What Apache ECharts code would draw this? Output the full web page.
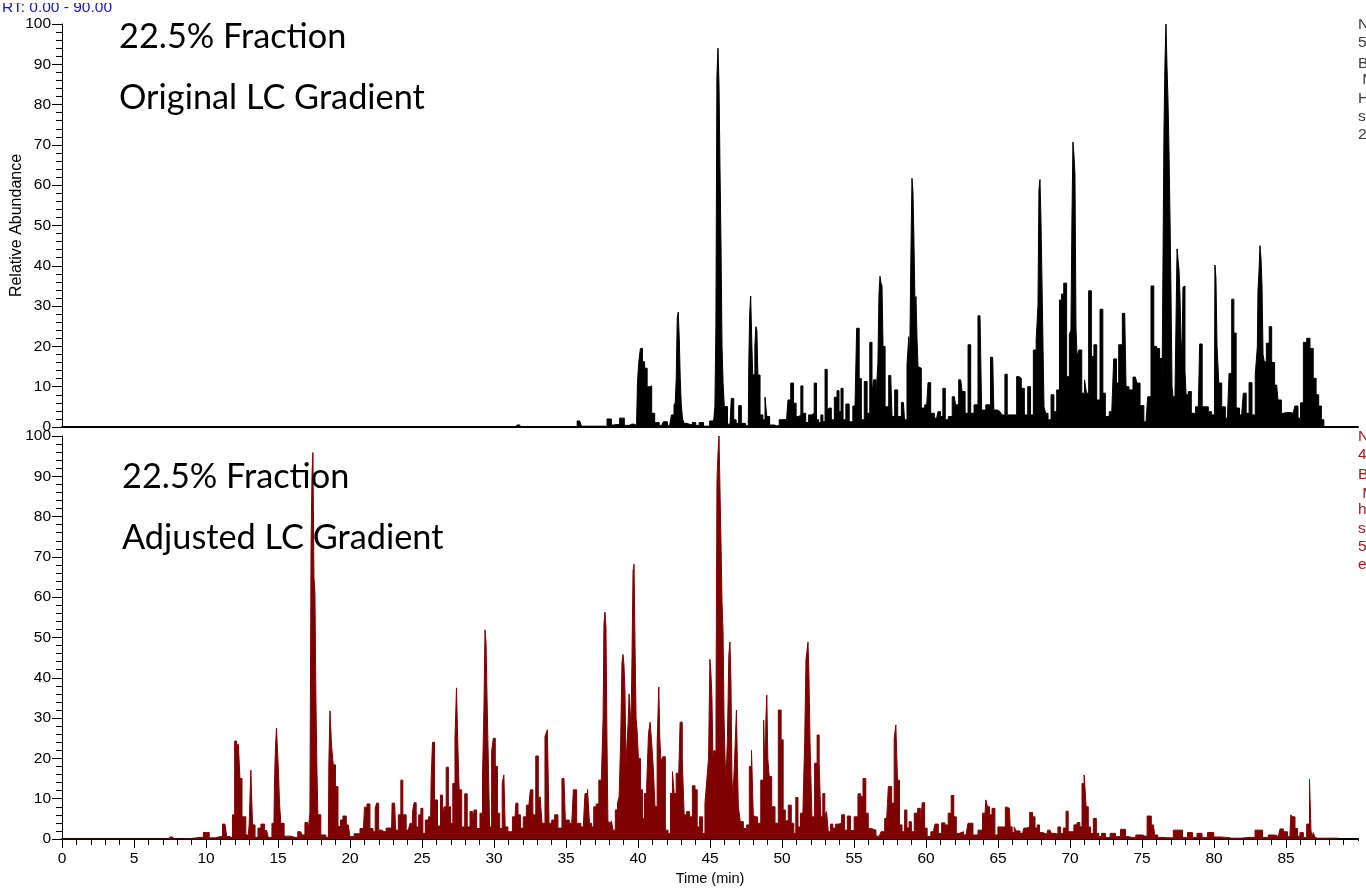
<!DOCTYPE html>
<html><head><meta charset="utf-8">
<style>html,body{margin:0;padding:0;background:#fff;overflow:hidden}#c{width:1366px;height:895px}</style>
<script src="https://cdn.jsdelivr.net/npm/echarts@6/dist/echarts.min.js"></script>
</head><body><div id="c"></div>
<script>
const topTimes=[0,31.5,31.7,31.9,35.6,35.95,36.2,37.7,38,38.3,38.55,38.9,39.2,39.56,39.9,40.02,40.09,40.25,40.37,40.55,40.72,40.88,41.02,41.3,41.64,41.88,42.2,42.5,42.68,42.8,42.92,43.03,43.26,43.5,43.65,43.89,44.12,44.38,44.72,45.23,45.4,45.46,45.5,45.55,45.62,45.75,45.85,45.93,46.04,46.39,46.57,46.73,46.9,47.08,47.27,47.66,47.72,47.78,47.87,48,48.08,48.24,48.36,48.59,48.75,48.89,49,49.28,49.63,49.98,50.32,50.51,50.7,50.9,51.06,51.25,51.37,51.53,51.76,51.94,52.13,52.34,52.45,52.64,52.76,52.92,53.06,53.22,53.33,53.52,53.75,53.89,54.03,54.17,54.31,54.56,54.77,55.07,55.3,55.42,55.6,55.83,55.99,56.2,56.3,56.43,56.62,56.8,56.9,57.04,57.27,57.55,57.73,57.92,58.15,58.43,58.59,58.77,58.84,58.95,59.03,59.12,59.25,59.35,59.58,59.77,60.05,60.23,60.42,60.74,60.93,61.09,61.25,61.43,61.67,61.97,62.13,62.41,62.6,62.83,63.01,63.2,63.47,63.75,63.98,64.33,64.63,64.79,65.14,65.4,65.56,65.72,65.95,66.18,66.41,66.53,66.71,66.95,67.18,67.34,67.57,67.73,67.85,67.92,68,68.15,68.38,68.57,68.8,68.96,69.19,69.35,69.48,69.65,69.88,70.09,70.2,70.3,70.46,70.7,70.93,71.09,71.2,71.39,71.58,71.74,71.97,72.2,72.36,72.55,72.9,73.17,73.29,73.47,73.8,73.98,74.21,74.54,74.75,74.98,75.28,75.51,75.74,75.9,76.14,76.3,76.48,76.6,76.67,76.78,76.95,77.18,77.4,77.5,77.64,77.8,77.92,78.1,78.33,78.52,78.91,79.1,79.26,79.49,79.72,79.95,80.07,80.2,80.42,80.65,80.93,81.16,81.3,81.46,81.62,81.92,82.15,82.32,82.55,82.73,83,83.12,83.2,83.3,83.54,83.73,83.94,84.07,84.35,84.54,84.82,85.05,85.5,85.74,85.93,86.09,86.32,86.55,86.78,87,87.18,87.36,87.55,87.71,90];
const topValues=[0,0,0.5,0,0,1.5,0.2,0.2,2,0.5,0.6,2.2,0.4,0.7,0.4,10.8,16.2,19.5,16.2,14.6,10,10.2,3.4,1.1,0.4,1.3,0.4,5.5,5.9,28.5,22,5.5,0.9,0.7,0.5,1.1,0.4,1.1,0.2,1.5,5,25,60,94,60,36,22,10.8,5.1,0.7,7.1,1.8,0.9,5.3,0.9,0.3,20,28.2,32.5,16.7,12.9,24.9,12.9,3,1.8,7.4,2.6,0.5,0.3,1.8,1.9,6.7,10.9,5.9,2.6,3,10.2,3.4,1.1,3,3.4,10.9,1.8,1.1,3,1.3,14.3,4.2,4.7,1.8,7.4,9,3.8,9.6,1.8,5.7,1.3,5.2,24.5,12,1.8,11.3,3.4,21,8.4,11.7,7.5,30,37,20,5,12.8,2.6,9.2,2.6,6.1,1.8,15.4,22.4,40,61.5,38,30,32.4,14.6,4.7,5.5,11,3.4,2.2,3.8,2.6,9.6,1.8,2.6,7.5,5.5,11.7,8.8,3.4,20.4,3.4,5.5,27.6,4.2,5.5,17.3,4.2,3.8,3,13.1,3,3,3,12.5,12.1,9.6,3,10,3,19.1,21.6,38,61,30,4.7,3.4,1.8,8,3.8,9.2,31.5,33,35.7,12.5,23.7,70.5,30,17.5,19.1,8.4,11.7,8.4,33.8,17.5,20.4,6.7,29.2,8.4,2.6,3.8,16.9,10.9,20.4,28.2,10,9.2,12.4,10.9,5.3,1.3,7.5,35,20,19.5,17,9.2,90,100,45,30,7.5,20,44,22.4,25,35,8,8.8,3.4,5,20.6,5,5,3.8,3,40,20,10.9,5,2.2,13.3,31.7,23.3,4.7,3,8.4,3.4,11,3,12.9,30,45,28,16.2,20.8,24.9,16,10.4,6.7,3.4,3.6,3.4,5.2,2.2,6,21,22,19.5,12.1,8,5.2,1.8,0,0];
const bottomTimes=[0,7.4,7.6,7.8,9.58,10.05,10.4,10.97,11.32,11.55,11.78,11.9,12.08,12.18,12.31,12.41,12.59,12.94,13.06,13.17,13.29,13.52,13.7,13.93,14.21,14.44,14.72,14.86,14.95,15.09,15.25,15.6,16.18,16.57,16.8,16.94,17.17,17.29,17.36,17.43,17.52,17.68,17.8,18.15,18.5,18.56,18.66,18.77,18.91,19.07,19.26,19.42,19.6,19.88,20.11,20.46,20.93,21.09,21.27,21.5,21.7,21.8,21.9,22.08,22.36,22.66,22.89,22.96,23.1,23.24,23.47,23.59,23.75,24.05,24.28,24.4,24.51,24.68,24.86,24.98,25.14,25.32,25.6,25.67,25.79,25.95,26.2,26.37,26.48,26.6,26.76,26.9,27.06,27.22,27.36,27.43,27.52,27.64,27.87,28.06,28.22,28.45,28.55,28.68,28.91,29.14,29.26,29.38,29.5,29.6,29.77,29.9,30,30.18,30.3,30.49,30.65,30.72,30.83,31.1,31.46,31.58,31.75,31.92,32.15,32.34,32.45,32.6,32.8,33,33.15,33.25,33.42,33.66,33.75,33.89,34.12,34.3,34.58,34.86,35.05,35.4,35.62,35.86,36.2,36.44,36.55,36.71,36.85,37,37.2,37.36,37.6,37.71,37.8,37.94,38.1,38.2,38.33,38.52,38.63,38.75,38.85,38.96,39.06,39.17,39.3,39.44,39.6,39.72,39.84,39.95,40.09,40.25,40.37,40.53,40.67,40.79,40.9,41,41.11,41.25,41.41,41.46,41.55,41.64,41.8,42,42.17,42.34,42.45,42.57,42.73,42.85,43,43.15,43.26,43.5,43.66,43.89,44.03,44.19,44.37,44.58,44.72,44.84,44.95,45,45.12,45.35,45.5,45.62,45.72,45.85,46.11,46.27,46.39,46.5,46.62,46.8,46.87,47,47.2,47.43,47.66,47.8,47.96,48.05,48.19,48.42,48.63,48.82,48.93,48.96,49.17,49.4,49.63,49.86,50.02,50.14,50.32,50.55,50.74,50.9,51.02,51.2,51.37,51.53,51.67,51.8,51.9,51.99,52.17,52.36,52.52,52.64,52.75,52.92,53.03,53.15,53.28,53.45,53.61,53.84,54.03,54.25,54.44,54.63,54.88,55.14,55.41,55.53,55.72,55.92,56.06,56.29,56.76,56.99,57.27,57.5,57.73,57.85,57.96,58.08,58.24,58.43,58.6,58.75,58.9,59.07,59.3,59.54,59.67,59.81,60,60.16,60.51,60.74,60.97,61.2,61.43,61.65,61.85,62.01,62.2,62.43,62.78,63.05,63.47,63.75,64.1,64.21,64.33,64.5,64.67,64.9,65.09,65.37,65.65,65.79,65.9,66.07,66.18,66.34,66.71,66.88,67.11,67.29,67.5,67.64,67.8,67.96,68.27,68.61,68.8,69.07,69.25,69.42,69.65,69.8,69.95,70.12,70.42,70.63,70.74,70.93,71.04,71.2,71.34,71.5,71.74,71.92,72.08,72.3,72.62,72.96,73.36,73.66,74.05,74.28,74.86,75.21,75.5,75.79,75.97,76.2,76.71,77.64,77.99,78.33,78.68,78.96,79.38,79.72,80.25,80.75,81.2,82.5,83.2,83.54,84,84.47,84.7,84.93,85.27,85.39,85.51,85.74,85.85,86.09,86.32,86.55,86.71,86.76,86.83,86.95,87.08,87.18,90];
const bottomValues=[0,0,0.5,0,0.4,1.6,0.3,0.6,3.7,0.6,0.2,6,24.3,22.8,23.6,15,5.5,1,3.7,17.1,3.5,0.4,2.7,3.7,2.1,0.4,3.9,22.9,27.5,16.3,3.9,0.7,0.4,1.8,1,4.1,0.6,6.4,60,96,60,17.1,6,1,0.4,18.4,31.8,23.3,18.4,13,3.1,4.7,5.7,3.5,0.6,1.3,2.6,7.9,8.7,2.6,1.8,7.6,8.9,2.2,1.8,2.7,2.7,8.9,8.9,2.2,6,14.6,6,2.2,3.9,6.8,9,3,6,7.6,1.4,4.7,5.5,15,24,9.7,3.2,10.9,6,8,17.8,8,3.9,13.8,25,37.5,25,12.2,3,11.2,3,6.8,3,7.2,2.6,6.4,15,52,28,23.8,3,21.7,25,18,6.4,2.6,13.8,15.9,3,1.8,5.5,8.9,6,2.7,5.5,8.4,7.5,12.2,6,20.6,9.7,10.5,3.9,25.4,27.1,3.9,4.7,6,2.7,15,4.7,3.9,12.2,3.9,3,11.3,12.3,3.9,3,8,8.7,14.6,40,56.5,30,4.3,4,4.5,2.2,7.2,8.9,10.5,30,45.5,28,18.8,40,48,30,68,35,27,20,12.2,5.1,11.3,13,26.2,29,23.8,18,8,23.8,34.5,25,19.2,20.4,2.2,1.4,11.3,16.7,11.3,16.3,10.9,29,19.6,6,6.8,5.5,13.2,12.2,3,5.5,1.4,8.9,14.6,20.4,44.5,25,40,100,55,35,14.6,25,49,20,10.5,19.6,32,18,8,4.3,2.6,3.5,18,22,6,5.5,3.9,14.6,29.5,36,15.5,13,8,3.9,32,24.6,7.2,4.5,8.4,3.9,1.4,10.3,3,6.4,35,49,30,24.6,5.5,17.1,18.8,25.8,18.8,5.5,11.3,5.5,6.8,1.8,3.7,2.7,3.7,3.9,6,2.2,5.7,2.1,5.5,11.2,10.5,15,6.4,2.6,2.2,0.7,1.8,5.1,13,8.9,25,28.3,14.6,3.5,1.8,7.2,2.7,4.3,1.8,6.4,7.6,3,9,2.7,0.6,1.8,3.7,1.4,4,3.5,6.4,10.8,5.5,1.4,1.8,1,3.9,1,2.2,6.4,9.7,8,6,7.6,1,3,3,7.9,7.6,3,1.6,3,2,1.4,2.7,3,6.6,5.5,2.7,3.5,1.6,1.3,2.2,1.4,1.2,3,1.4,2.7,6.9,1.8,1.8,3.5,4.1,3,13.8,15.9,8,3,1.4,5.1,1.4,0.6,1.4,0.4,1.4,0.6,2.4,0.6,0.4,1,0.7,5.7,3.5,1,0.4,0.3,2.2,0.4,1.6,0.4,1.4,0.4,1.6,0.5,0.4,0.2,0.4,2.2,0.4,1,0.6,2.5,1.8,0.6,6,5.5,2.6,0.7,1.6,0.4,3.7,14.8,2.2,0.4,1.6,0.4,0.2];
// Finer column-by-column readings of the tallest peaks
const topPeakReadings=[
 [[42.45,3],[42.55,5.5],[42.62,6],[42.69,12],[42.76,27],[42.83,28.5],[42.9,22],[42.97,12],[43.04,5.5],[43.15,2]],
 [[45.3,2],[45.38,5],[45.44,25],[45.52,87],[45.59,94],[45.66,85],[45.73,64],[45.8,45],[45.87,20],[45.95,10.8]],
 [[47.66,0.3],[47.72,15],[47.79,28.2],[47.86,32.5],[47.93,22],[48,13],[48.08,12.9],[48.15,20],[48.22,24.9],[48.29,24],[48.36,12.9]],
 [[56.7,15.8],[56.77,33],[56.84,37.4],[56.91,35.7],[56.98,35],[57.05,20]],
 [[58.85,15.4],[58.92,22],[58.99,43.5],[59.06,61.7],[59.13,58.4],[59.2,46],[59.27,30],[59.34,32.4],[59.41,22],[59.48,15]],
 [[67.74,21.6],[67.81,30],[67.88,58.8],[67.95,61.4],[68.02,51.4],[68.09,36],[68.16,20],[68.23,5]],
 [[70.03,23],[70.1,24],[70.17,51.6],[70.24,70.7],[70.31,67.5],[70.38,62.8],[70.45,25],[70.52,17.5]],
 [[76.49,9.2],[76.56,73.4],[76.63,90.5],[76.7,100],[76.77,89.8],[76.84,81.1],[76.91,68.5],[76.98,52],[77.05,32.8],[77.12,10]],
 [[77.4,8],[77.47,44.2],[77.54,41.4],[77.6,39],[77.67,33],[77.74,22],[77.81,18],[77.88,34.7],[77.95,35],[78.02,14],[78.1,8]],
 [[80.03,3],[80.1,40.2],[80.17,37],[80.25,20],[80.42,10.9]],
 [[83.02,20],[83.09,34],[83.16,38.7],[83.23,45],[83.3,41.7],[83.37,35],[83.44,18],[83.54,16.2]]
];
const bottomPeakReadings=[
 [[14.72,3.9],[14.79,14],[14.86,22.9],[14.93,27.5],[15,22],[15.07,16.3],[15.14,9],[15.25,3.9]],
 [[17.26,6.4],[17.33,72.7],[17.39,90],[17.46,95.9],[17.53,65],[17.6,61],[17.67,34],[17.74,17],[17.8,6]],
 [[29.27,15],[29.34,33],[29.41,51.9],[29.48,48.9],[29.55,35.2],[29.62,23],[29.77,3]],
 [[37.55,14.6],[37.6,30],[37.67,53.3],[37.74,56.3],[37.81,52.6],[37.88,25],[37.94,4.3]],
 [[38.75,10.5],[38.85,25],[38.92,43.6],[38.99,45.8],[39.06,43.3],[39.13,36.7],[39.2,18],[39.28,24],[39.35,28.7],[39.41,36],[39.48,36.3],[39.55,28],[39.62,45.8],[39.69,66.5],[39.76,68.2],[39.83,47.9],[39.9,30],[39.97,27],[40.09,20]],
 [[41.41,23.8],[41.48,37.7],[41.55,25]],
 [[44.84,14.6],[44.96,20],[45.03,44.6],[45.1,41.1],[45.17,34.9],[45.24,20],[45.31,22],[45.38,21.7],[45.45,30],[45.52,89],[45.59,95.7],[45.66,100],[45.73,86.4],[45.8,73.4],[45.87,58.5],[45.94,51.4],[46.01,30],[46.08,20],[46.15,14.6],[46.27,25],[46.35,45.8],[46.42,48.9],[46.49,39.2],[46.56,15],[46.62,10.5],[46.8,19.6],[46.87,32],[46.94,18]],
 [[48.85,14.6],[48.91,29.5],[48.98,35.7],[49.05,20],[49.17,15.5]],
 [[51.53,6.4],[51.63,25],[51.7,44.6],[51.77,46.6],[51.84,48.9],[51.91,39.9],[51.98,24],[52.17,5.5]]
];
const xTicks=[0,5,10,15,20,25,30,35,40,45,50,55,60,65,70,75,80,85];
const fill1='#000000', fill2='#7f0000', sideGray='#3c3c3c', sideRed='#a01c1c';
const labelsTop=['22.5% Fraction','Original LC Gradient'];
const labelsBottom=['22.5% Fraction','Adjusted LC Gradient'];
const sideTop=[['N',23],['5',41],['B',62],[' M',78],['H',97],['s',115],['2',133]];
const sideBottom=[['N',435],['4',453],['B',473],[' M',492],['h',508],['s',527],['5',545],['e',563]];
const F='"Liberation Sans",Arial,sans-serif';
const merged=(a,b,segs)=>{
 let p=a.map((t,i)=>[t,b[i]]);
 segs.forEach(s=>{const lo=s[0][0],hi=s[s.length-1][0];p=p.filter(d=>d[0]<lo||d[0]>hi).concat(s);});
 return p.sort((x,y)=>x[0]-y[0]);
};
const chart=echarts.init(document.getElementById('c'),null,{renderer:'canvas'});
const big=(s,x,y)=>({type:'text',left:x,top:y-16,z:10,style:{text:s,font:'34.3px Lato',fill:'#000'}});
const yAxisCommon={type:'value',min:0,max:100,interval:10,
 axisLine:{show:true,lineStyle:{color:'#000',width:1}},
 axisTick:{show:true,length:10,lineStyle:{color:'#000',width:1}},
 minorTick:{show:true,splitNumber:5,length:6,lineStyle:{color:'#000',width:1}},
 splitLine:{show:false},minorSplitLine:{show:false},
 axisLabel:{fontFamily:F,fontSize:15.5,color:'#000',margin:11,showMinLabel:true,showMaxLabel:true}};
const line=(name,i,d,c)=>({type:'line',name,xAxisIndex:i,yAxisIndex:i,data:d,symbol:'none',sampling:false,step:'middle',
 lineStyle:{color:c,width:1,join:'miter'},areaStyle:{color:c,opacity:1},itemStyle:{color:c},animation:false,silent:true,clip:true});
chart.setOption({animation:false,backgroundColor:'#fff',
 grid:[{left:62,width:1296,top:24,height:403,outerBoundsMode:'none'},{left:62,width:1296,top:436,height:403,outerBoundsMode:'none'}],
 xAxis:[
  {gridIndex:0,type:'value',min:0,max:90,interval:5,axisLine:{show:true,onZero:false,lineStyle:{color:'#000',width:2}},axisTick:{show:false},axisLabel:{show:false},splitLine:{show:false}},
  {gridIndex:1,type:'value',min:0,max:90,interval:5,name:'Time (min)',nameLocation:'middle',nameGap:32,nameMoveOverlap:false,nameTextStyle:{fontFamily:F,fontSize:14.5,color:'#000'},
   axisLine:{show:true,onZero:false,lineStyle:{color:'#000',width:2}},
   axisTick:{show:true,length:9,lineStyle:{color:'#000',width:1}},
   minorTick:{show:true,splitNumber:5,length:6,lineStyle:{color:'#000',width:1}},
   splitLine:{show:false},
   axisLabel:{fontFamily:F,fontSize:15.5,color:'#000',margin:12,showMaxLabel:false,formatter:v=>xTicks.includes(v)?String(v):''}}
 ],
 yAxis:[
  Object.assign({gridIndex:0,name:'Relative Abundance',nameLocation:'middle',nameGap:37,nameRotate:90,nameMoveOverlap:false,nameTextStyle:{fontFamily:F,fontSize:16,color:'#000'}},yAxisCommon),
  Object.assign({gridIndex:1},yAxisCommon)
 ],
 series:[line('Original LC Gradient',0,merged(topTimes,topValues,topPeakReadings),fill1),line('Adjusted LC Gradient',1,merged(bottomTimes,bottomValues,bottomPeakReadings),fill2)],
 graphic:[
  {type:'text',left:2,top:0,z:9,style:{text:'RT: 0.00 - 90.00',font:'15.5px '+F,fill:'#1616c0'}},
  {type:'rect',shape:{x:0,y:0,width:130,height:3},z:10,style:{fill:'#fff'}},
  {type:'rect',shape:{x:1353,y:841,width:10,height:12},z:10,style:{fill:'#fff'}},
  big(labelsTop[0],119,36),big(labelsTop[1],119,97),big(labelsBottom[0],122,476),big(labelsBottom[1],122,537),
  ...sideTop.map(([s,y])=>({type:'text',left:1358,top:y-6,z:10,style:{text:s,font:'15.5px '+F,fill:sideGray}})),
  ...sideBottom.map(([s,y])=>({type:'text',left:1358,top:y-6,z:10,style:{text:s,font:'15.5px '+F,fill:sideRed}}))
 ]
});
</script></body></html>
